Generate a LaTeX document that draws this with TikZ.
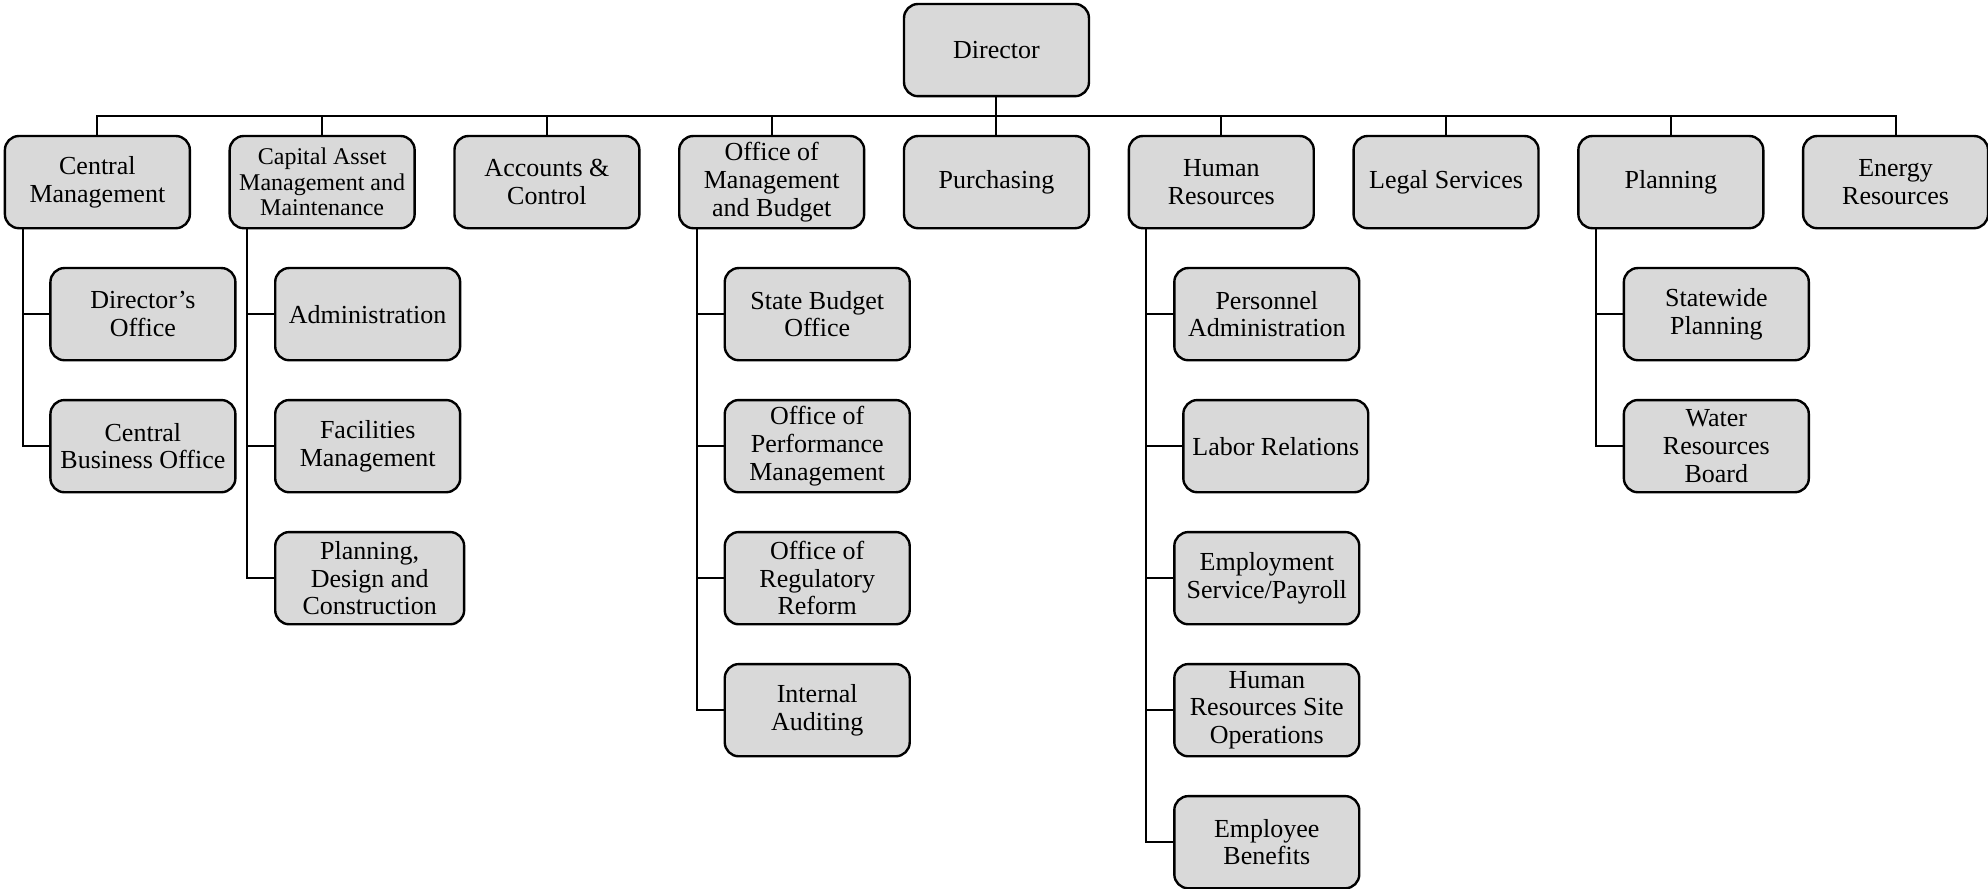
\documentclass[tikz,border=0pt]{standalone}
\usepackage{fontspec}
\setmainfont{Liberation Serif}
\usetikzlibrary{positioning}
\usetikzlibrary{calc}

\tikzset{
  unit/.style={draw, line width=1.2pt, fill=black!15, rounded corners=7pt,
    minimum width=3.25cm, minimum height=1.62cm, inner sep=1pt, outer sep=0pt,
    align=center, font=\fontsize{13}{13.8}\selectfont},
  link/.style={line width=1pt},
}

\begin{document}
\begin{tikzpicture}
  \node[unit] (director) at (0,0) {Director};
  \path[use as bounding box] ($(director.north)+(-498.25pt,2pt)$) rectangle ($(director.north)+(495.75pt,-442.5pt)$);

  \node[unit, below=0.7cm of director] (purchasing) {Purchasing};
  \node[unit, left=0.7cm of purchasing] (budget) {Office of\\Management\\and Budget};
  \node[unit, left=0.7cm of budget] (accounts) {Accounts \&\\Control};
  \node[unit, left=0.7cm of accounts, font=\fontsize{12}{12.7}\selectfont] (capital) {Capital Asset\\Management and\\Maintenance};
  \node[unit, left=0.7cm of capital] (central) {Central\\Management};
  \node[unit, right=0.7cm of purchasing] (hr) {Human\\Resources};
  \node[unit, right=0.7cm of hr] (legal) {Legal Services};
  \node[unit, right=0.7cm of legal] (planning) {Planning};
  \node[unit, right=0.7cm of planning] (energy) {Energy\\Resources};

  % central management
  \node[unit, below=0.7cm of central.south west, anchor=north west, xshift=0.8cm] (diroffice) {Director's\\Office};
  \node[unit, below=0.7cm of diroffice] (cbo) {Central\\Business Office};

  % capital asset
  \node[unit, below=0.7cm of capital.south west, anchor=north west, xshift=0.8cm] (admin) {Administration};
  \node[unit, below=0.7cm of admin] (facilities) {Facilities\\Management};
  \node[unit, below=0.7cm of facilities.south west, anchor=north west, minimum width=3.32cm] (pdc) {Planning,\\Design and\\Construction};

  % budget
  \node[unit, below=0.7cm of budget.south west, anchor=north west, xshift=0.8cm] (sbo) {State Budget\\Office};
  \node[unit, below=0.7cm of sbo] (perf) {Office of\\Performance\\Management};
  \node[unit, below=0.7cm of perf] (reg) {Office of\\Regulatory\\Reform};
  \node[unit, below=0.7cm of reg] (audit) {Internal\\Auditing};

  % human resources
  \node[unit, below=0.7cm of hr.south west, anchor=north west, xshift=0.8cm] (personnel) {Personnel\\Administration};
  \node[unit, below=0.7cm of personnel, xshift=4.5pt] (labor) {Labor Relations};
  \node[unit, below=0.7cm of labor, xshift=-4.5pt] (payroll) {Employment\\Service/Payroll};
  \node[unit, below=0.7cm of payroll] (hrsite) {Human\\Resources Site\\Operations};
  \node[unit, below=0.7cm of hrsite] (benefits) {Employee\\Benefits};

  % planning
  \node[unit, below=0.7cm of planning.south west, anchor=north west, xshift=0.8cm] (statewide) {Statewide\\Planning};
  \node[unit, below=0.7cm of statewide] (water) {Water\\Resources\\Board};

  % lines
  \coordinate (bus) at ($(director.south)!0.5!(purchasing.north)$);
  \draw[link] (central.north) |- (bus) -| (energy.north);
  \draw[link] (director.south) -- (purchasing.north);
  \foreach \u in {capital, accounts, budget, hr, legal, planning}
    \draw[link] (\u.north) -- (\u.north |- bus);

  \foreach \p/\kids in {central/{diroffice,cbo}, capital/{admin,facilities,pdc},
      budget/{sbo,perf,reg,audit}, hr/{personnel,labor,payroll,hrsite,benefits},
      planning/{statewide,water}} {
    \coordinate (\p-trunk) at ($(\p.south west)+(0.31,0)$);
    \foreach \k in \kids
      \draw[link] (\p-trunk) |- (\k.west);
  }
\end{tikzpicture}
\end{document}
